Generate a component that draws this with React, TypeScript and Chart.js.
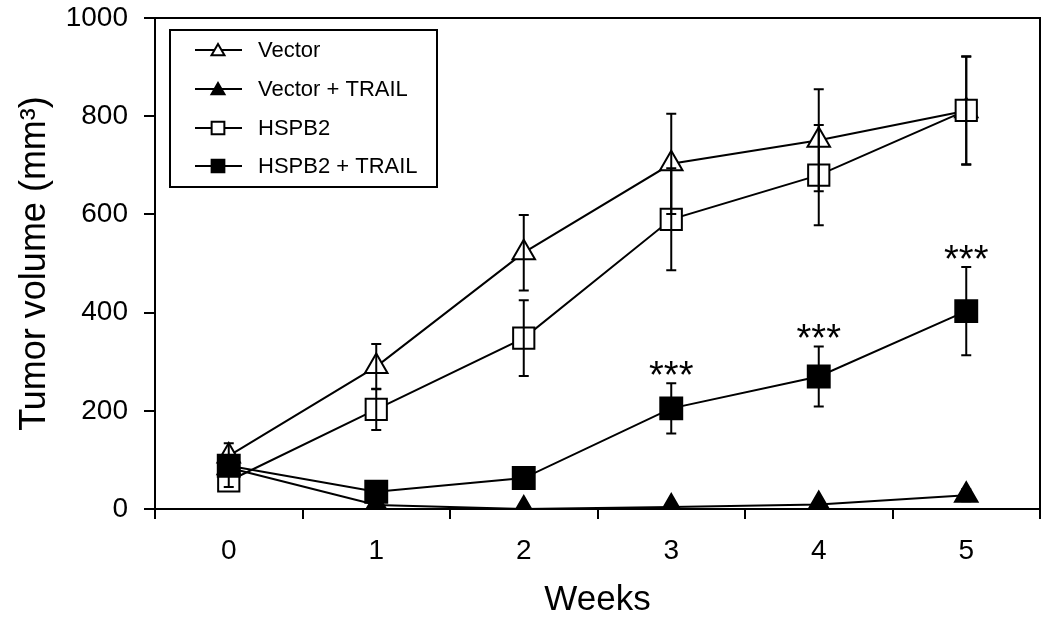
import React, { useEffect, useRef } from 'react';
import { Chart, registerables } from 'chart.js';

Chart.register(...registerables);

const weeks = ['0', '1', '2', '3', '4', '5'];

const vectorMean = [108, 290, 522, 703, 751, 811];
const vectorErr = [26, 46, 77, 102, 104, 110];

const vectorTrailMean = [84, 8, 0, 4, 9, 28];
const vectorTrailErr = [0, 0, 0, 0, 0, 12];

const hspb2Mean = [57, 203, 348, 590, 680, 812];
const hspb2Err = [12, 42, 77, 104, 102, 110];

const hspb2TrailMean = [88, 35, 63, 205, 270, 403];
const hspb2TrailErr = [0, 0, 0, 51, 61, 90];

const significance = ['', '', '', '***', '***', '***'];

const seriesNames = ['Vector', 'Vector + TRAIL', 'HSPB2', 'HSPB2 + TRAIL'];

const FONT = '"Liberation Sans", Arial, Helvetica, sans-serif';

function drawMarker(ctx: CanvasRenderingContext2D, style: string, x: number, y: number, r: number, filled: boolean) {
  ctx.beginPath();
  if (style === 'triangle') {
    let rad = 0;
    ctx.moveTo(x + Math.sin(rad) * r, y - Math.cos(rad) * r);
    rad += (2 * Math.PI) / 3;
    ctx.lineTo(x + Math.sin(rad) * r, y - Math.cos(rad) * r);
    rad += (2 * Math.PI) / 3;
    ctx.lineTo(x + Math.sin(rad) * r, y - Math.cos(rad) * r);
    ctx.closePath();
  } else {
    const s = Math.SQRT1_2 * r;
    ctx.rect(x - s, y - s, 2 * s, 2 * s);
  }
  ctx.fillStyle = filled ? '#000' : '#fff';
  ctx.fill();
  ctx.lineWidth = 2;
  ctx.strokeStyle = '#000';
  ctx.stroke();
}

export default function App() {
  const ref = useRef<HTMLCanvasElement>(null);

  useEffect(() => {
    const canvas = ref.current;
    if (!canvas) return;

    const frameAndErrors = {
      id: 'frameAndErrors',
      beforeDatasetsDraw(chart: any) {
        const { ctx, chartArea } = chart;
        ctx.save();
        ctx.strokeStyle = '#000';
        ctx.lineWidth = 2;
        ctx.strokeRect(chartArea.left, chartArea.top, chartArea.right - chartArea.left, chartArea.bottom - chartArea.top);
        ctx.restore();
      },
      afterDatasetsDraw(chart: any) {
        const { ctx } = chart;
        const yScale = chart.scales.y;
        ctx.save();
        ctx.strokeStyle = '#000';
        ctx.lineWidth = 2;
        chart.data.datasets.forEach((ds: any, di: number) => {
          const errs: number[] = ds.errors;
          if (!errs) return;
          const meta = chart.getDatasetMeta(di);
          meta.data.forEach((pt: any, i: number) => {
            const e = errs[i];
            if (!e) return;
            const v = ds.data[i] as number;
            const px = pt.x;
            const yt = yScale.getPixelForValue(v + e);
            const yb = yScale.getPixelForValue(Math.max(v - e, 0));
            ctx.beginPath();
            ctx.moveTo(px, yt);
            ctx.lineTo(px, yb);
            ctx.moveTo(px - 5, yt);
            ctx.lineTo(px + 5, yt);
            ctx.moveTo(px - 5, yb);
            ctx.lineTo(px + 5, yb);
            ctx.stroke();
          });
        });

        // significance marks over HSPB2 + TRAIL
        const sigIndex = 0;
        const sigDs: any = chart.data.datasets[sigIndex];
        const sigMeta = chart.getDatasetMeta(sigIndex);
        ctx.fillStyle = '#000';
        ctx.font = `38px ${FONT}`;
        ctx.textAlign = 'center';
        ctx.textBaseline = 'alphabetic';
        significance.forEach((s, i) => {
          if (!s) return;
          const v = (sigDs.data[i] as number) + (sigDs.errors[i] || 0);
          const yt = yScale.getPixelForValue(v);
          ctx.fillText(s, sigMeta.data[i].x, yt + 5);
        });

        // legend
        const lx = 170, ly = 30, lw = 267, lh = 157;
        ctx.fillStyle = '#fff';
        ctx.fillRect(lx, ly, lw, lh);
        ctx.lineWidth = 2;
        ctx.strokeStyle = '#000';
        ctx.strokeRect(lx, ly, lw, lh);
        const rows = [50, 89, 128, 166];
        const order = [3, 2, 1, 0];
        order.forEach((di, k) => {
          const ds: any = chart.data.datasets[di];
          const y = rows[k];
          ctx.beginPath();
          ctx.lineWidth = 2;
          ctx.strokeStyle = '#000';
          ctx.moveTo(195, y);
          ctx.lineTo(242, y);
          ctx.stroke();
          const isTri = ds.pointStyle === 'triangle';
          drawMarker(ctx, ds.pointStyle, 218, isTri ? y + 1.5 : y, isTri ? 7.5 : 9, ds.pointBackgroundColor === '#000');
          ctx.fillStyle = '#000';
          ctx.font = `22px ${FONT}`;
          ctx.textAlign = 'left';
          ctx.textBaseline = 'middle';
          ctx.fillText(ds.label, 258, y + 1);
        });
        ctx.restore();
      },
    };

    const chart = new Chart(canvas, {
      type: 'line',
      data: {
        labels: weeks,
        datasets: [
          {
            label: seriesNames[3],
            data: hspb2TrailMean,
            errors: hspb2TrailErr,
            borderColor: '#000',
            borderWidth: 2,
            pointStyle: 'rect',
            pointRadius: 15.5,
            pointBackgroundColor: '#000',
            pointBorderColor: '#000',
            pointBorderWidth: 2,
            tension: 0,
          } as any,
          {
            label: seriesNames[2],
            data: hspb2Mean,
            errors: hspb2Err,
            borderColor: '#000',
            borderWidth: 2,
            pointStyle: 'rect',
            pointRadius: 15,
            pointBackgroundColor: '#fff',
            pointBorderColor: '#000',
            pointBorderWidth: 2,
            tension: 0,
          } as any,
          {
            label: seriesNames[1],
            data: vectorTrailMean,
            errors: vectorTrailErr,
            borderColor: '#000',
            borderWidth: 2,
            pointStyle: 'triangle',
            pointRadius: 13,
            pointBackgroundColor: '#000',
            pointBorderColor: '#000',
            pointBorderWidth: 2,
            tension: 0,
          } as any,
          {
            label: seriesNames[0],
            data: vectorMean,
            errors: vectorErr,
            borderColor: '#000',
            borderWidth: 2,
            pointStyle: 'triangle',
            pointRadius: 13,
            pointBackgroundColor: '#fff',
            pointBorderColor: '#000',
            pointBorderWidth: 2,
            tension: 0,
          } as any,
        ],
      },
      options: {
        responsive: false,
        animation: false,
        events: [],
        layout: { autoPadding: false, padding: { top: 18, right: 10, left: 0, bottom: 0 } },
        plugins: {
          legend: { display: false },
          tooltip: { enabled: false },
        },
        scales: {
          x: {
            type: 'category',
            offset: true,
            grid: {
              offset: true,
              drawOnChartArea: false,
              drawTicks: true,
              tickLength: 10,
              lineWidth: 2,
              color: '#000',
            },
            border: { display: true, color: '#000', width: 2 },
            ticks: {
              color: '#000',
              padding: 15,
              font: { family: FONT, size: 28 },
            },
            title: {
              display: true,
              text: 'Weeks',
              color: '#000',
              padding: { top: 0, bottom: 4 },
              font: { family: FONT, size: 35 },
            },
            afterFit: (s: any) => {
              s.height = 116;
              s.paddingLeft = 0;
              s.paddingRight = 0;
              s.paddingTop = 0;
              s.paddingBottom = 0;
            },
          },
          y: {
            min: 0,
            max: 1000,
            grid: {
              drawOnChartArea: false,
              drawTicks: true,
              tickLength: 11,
              lineWidth: 2,
              color: '#000',
            },
            border: { display: true, color: '#000', width: 2 },
            ticks: {
              stepSize: 200,
              color: '#000',
              padding: 16,
              font: { family: FONT, size: 28 },
              callback: (v: any) => String(v),
            },
            title: {
              display: true,
              text: 'Tumor volume (mm³)',
              color: '#000',
              padding: { top: 13, bottom: 0 },
              font: { family: FONT, size: 36 },
            },
            afterFit: (s: any) => {
              s.width = 155;
              s.paddingLeft = 0;
              s.paddingRight = 0;
              s.paddingTop = 0;
              s.paddingBottom = 0;
            },
          },
        },
      } as any,
      plugins: [frameAndErrors],
    });

    return () => chart.destroy();
  }, []);

  return (
    <div style={{ position: 'fixed', left: 0, top: 0, width: 1050, height: 625, background: '#fff' }}>
      <canvas ref={ref} width={1050} height={625} style={{ display: 'block' }} />
    </div>
  );
}
